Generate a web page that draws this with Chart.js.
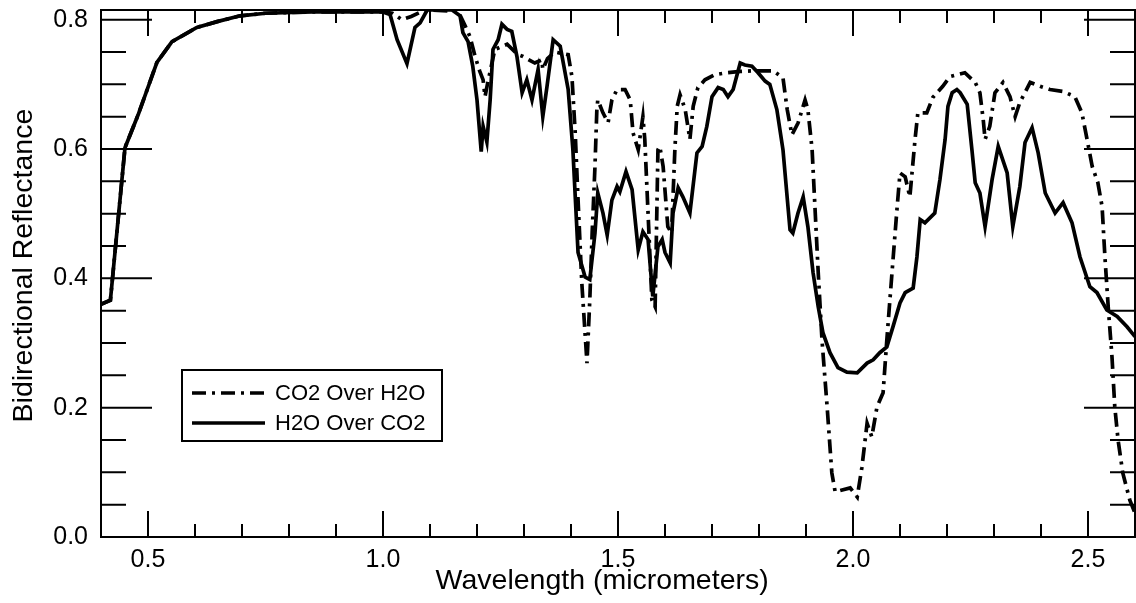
<!DOCTYPE html>
<html>
<head>
<meta charset="utf-8">
<script src="https://cdn.jsdelivr.net/npm/chart.js@4.4.0/dist/chart.umd.min.js"></script>
<style>
body { margin: 0; background: #fff; }
#wrap { width: 1136px; height: 603px; position: relative; }
</style>
</head>
<body>
<div id="wrap"><canvas id="myChart"></canvas></div>
<script>
// H2O Over CO2 (solid)
let h2oX = [0.40, 0.42, 0.451, 0.479, 0.519, 0.551, 0.604, 0.647, 0.696, 0.75, 0.85, 1.0,
  1.015, 1.03, 1.051, 1.068, 1.079, 1.094, 1.147, 1.164, 1.17, 1.181, 1.191, 1.2, 1.209, 1.213,
  1.221, 1.228, 1.234, 1.245, 1.253, 1.264, 1.274, 1.285, 1.296, 1.306, 1.317, 1.330, 1.340,
  1.349, 1.362, 1.377, 1.394, 1.404, 1.415, 1.430, 1.440, 1.451, 1.457, 1.468, 1.477, 1.487,
  1.498, 1.504, 1.517, 1.530, 1.543, 1.553, 1.564, 1.574, 1.585, 1.594, 1.600, 1.611, 1.617,
  1.628, 1.638, 1.653, 1.668, 1.679, 1.689, 1.700, 1.713, 1.724, 1.734, 1.745, 1.760, 1.770,
  1.785, 1.798, 1.813, 1.823, 1.838, 1.851, 1.866, 1.872, 1.883, 1.894, 1.904, 1.915, 1.926,
  1.936, 1.951, 1.968, 1.987, 2.009, 2.030, 2.043, 2.057, 2.072, 2.085, 2.100, 2.111, 2.128,
  2.136, 2.143, 2.153, 2.174, 2.185, 2.196, 2.202, 2.211, 2.221, 2.228, 2.243, 2.253, 2.260,
  2.270, 2.281, 2.296, 2.309, 2.328, 2.340, 2.355, 2.366, 2.381, 2.394, 2.409, 2.430, 2.447,
  2.466, 2.483, 2.504, 2.519, 2.540, 2.562, 2.583, 2.600]
let h2oY = [0.360, 0.366, 0.602, 0.653, 0.734, 0.766, 0.788, 0.797, 0.806, 0.810, 0.812, 0.812,
  0.808, 0.769, 0.732, 0.788, 0.795, 0.815, 0.815, 0.806, 0.780, 0.766, 0.728, 0.676, 0.596, 0.635,
  0.611, 0.676, 0.754, 0.769, 0.793, 0.785, 0.782, 0.743, 0.687, 0.707, 0.676, 0.723, 0.650,
  0.697, 0.769, 0.759, 0.692, 0.599, 0.440, 0.402, 0.398, 0.470, 0.532, 0.501, 0.467, 0.521,
  0.542, 0.534, 0.565, 0.537, 0.444, 0.472, 0.460, 0.372, 0.449, 0.460, 0.440, 0.424, 0.501,
  0.540, 0.526, 0.501, 0.594, 0.604, 0.635, 0.681, 0.695, 0.692, 0.681, 0.692, 0.733, 0.730,
  0.728, 0.718, 0.705, 0.700, 0.661, 0.599, 0.475, 0.470, 0.501, 0.526, 0.480, 0.409, 0.356,
  0.316, 0.285, 0.262, 0.255, 0.254, 0.269, 0.274, 0.285, 0.294, 0.325, 0.362, 0.378, 0.385,
  0.433, 0.491, 0.486, 0.501, 0.553, 0.615, 0.666, 0.687, 0.692, 0.687, 0.669, 0.599, 0.548,
  0.532, 0.480, 0.553, 0.604, 0.563, 0.480, 0.542, 0.610, 0.633, 0.594, 0.532, 0.501, 0.517,
  0.486, 0.433, 0.387, 0.378, 0.351, 0.341, 0.325, 0.310]

// CO2 Over H2O (dash-dot)
let co2X = [0.40, 0.42, 0.451, 0.479, 0.519, 0.551, 0.604, 0.647, 0.696, 0.75, 0.85, 1.0,
  1.02, 1.04, 1.06, 1.08, 1.10, 1.16, 1.175, 1.185, 1.196, 1.206, 1.213, 1.217, 1.223, 1.238,
  1.264, 1.287, 1.298, 1.323, 1.338, 1.340, 1.350, 1.365, 1.394, 1.402, 1.409, 1.415, 1.423,
  1.434, 1.440, 1.445, 1.451, 1.455, 1.457, 1.468, 1.479, 1.487, 1.498, 1.515, 1.526, 1.532,
  1.543, 1.553, 1.557, 1.564, 1.572, 1.579, 1.585, 1.589, 1.596, 1.606, 1.614, 1.621, 1.626,
  1.632, 1.643, 1.653, 1.660, 1.670, 1.685, 1.706, 1.732, 1.760, 1.787, 1.830, 1.851, 1.860,
  1.870, 1.883, 1.898, 1.904, 1.913, 1.919, 1.926, 1.934, 1.945, 1.955, 1.962, 1.994, 2.009,
  2.019, 2.030, 2.040, 2.051, 2.064, 2.072, 2.083, 2.094, 2.100, 2.111, 2.121, 2.132, 2.138,
  2.157, 2.170, 2.191, 2.206, 2.238, 2.260, 2.270, 2.277, 2.281, 2.291, 2.302, 2.319, 2.334,
  2.345, 2.355, 2.377, 2.398, 2.419, 2.447, 2.472, 2.487, 2.498, 2.509, 2.521, 2.530, 2.536,
  2.543, 2.551, 2.557, 2.564, 2.574, 2.589, 2.600]
let co2Y = [0.360, 0.366, 0.602, 0.653, 0.734, 0.766, 0.788, 0.797, 0.806, 0.810, 0.812, 0.812,
  0.810, 0.800, 0.805, 0.812, 0.815, 0.813, 0.790, 0.774, 0.743, 0.720, 0.707, 0.681, 0.703, 0.754,
  0.762, 0.746, 0.743, 0.733, 0.738, 0.723, 0.740, 0.750, 0.746, 0.712, 0.625, 0.522, 0.393,
  0.269, 0.367, 0.470, 0.573, 0.661, 0.676, 0.656, 0.641, 0.676, 0.692, 0.692, 0.676, 0.625,
  0.599, 0.650, 0.615, 0.500, 0.367, 0.356, 0.599, 0.604, 0.573, 0.480, 0.470, 0.599, 0.666,
  0.684, 0.661, 0.615, 0.666, 0.695, 0.707, 0.715, 0.718, 0.720, 0.721, 0.721, 0.710, 0.661,
  0.622, 0.640, 0.676, 0.661, 0.599, 0.511, 0.409, 0.305, 0.201, 0.099, 0.070, 0.076, 0.062,
  0.108, 0.176, 0.155, 0.201, 0.223, 0.305, 0.409, 0.511, 0.563, 0.557, 0.526, 0.615, 0.656,
  0.656, 0.680, 0.697, 0.712, 0.718, 0.703, 0.687, 0.646, 0.615, 0.635, 0.687, 0.703, 0.681,
  0.650, 0.672, 0.703, 0.697, 0.692, 0.689, 0.681, 0.656, 0.615, 0.573, 0.548, 0.511, 0.433,
  0.356, 0.279, 0.201, 0.150, 0.099, 0.057, 0.037]

let seriesNames = ["CO2 Over H2O", "H2O Over CO2"]

function pts(xs, ys) {
        return xs.map(function (x, i) { return { x: x, y: ys[i] } })
}

Chart.defaults.font.family = '"Liberation Sans", Helvetica, Arial, sans-serif'
Chart.defaults.color = "#000"

// box, inward ticks and legend, IDL style
const frame = {
        id: "frame",
        afterDatasetsDraw(chart) {
                const ctx = chart.ctx
                const a = chart.chartArea
                const sx = chart.scales.x
                const sy = chart.scales.y
                ctx.save()
                ctx.strokeStyle = "#000"
                ctx.lineWidth = 2
                ctx.strokeRect(a.left, a.top, a.right - a.left, a.bottom - a.top)
                ctx.beginPath()
                for (let i = 4; i <= 26; i++) {
                        let px = sx.getPixelForValue(i / 10)
                        let len = (i % 5 == 0) ? 26 : 13
                        ctx.moveTo(px, a.bottom); ctx.lineTo(px, a.bottom - len)
                        ctx.moveTo(px, a.top); ctx.lineTo(px, a.top + len)
                }
                for (let i = 0; i <= 16; i++) {
                        let py = sy.getPixelForValue(i * 0.05)
                        let len = (i % 4 == 0) ? 51 : 25
                        ctx.moveTo(a.left, py); ctx.lineTo(a.left + len, py)
                        ctx.moveTo(a.right, py); ctx.lineTo(a.right - len, py)
                }
                ctx.stroke()

                // legend
                ctx.fillStyle = "#fff"
                ctx.fillRect(182, 370, 260, 71)
                ctx.strokeRect(182, 370, 260, 71)
                ctx.font = '22px "Liberation Sans", Helvetica, Arial, sans-serif'
                ctx.textBaseline = "middle"
                chart.data.datasets.forEach(function (ds, i) {
                        let y = 393 + i * 30
                        ctx.setLineDash(ds.borderDash || [])
                        ctx.lineWidth = ds.borderWidth
                        ctx.beginPath()
                        ctx.moveTo(192, y)
                        ctx.lineTo(265, y)
                        ctx.stroke()
                        ctx.setLineDash([])
                        ctx.fillStyle = "#000"
                        ctx.fillText(ds.label, 275, y + 1)
                })
                ctx.restore()
        }
}

let myChart = new Chart(document.getElementById("myChart"), {
        type: "line",
        data: {
                datasets: [
                        {
                                label: seriesNames[0],
                                data: pts(co2X, co2Y),
                                borderColor: "#000",
                                borderWidth: 3.7,
                                borderDash: [14, 6, 3, 6],
                                pointRadius: 0,
                                tension: 0,
                                fill: false
                        },
                        {
                                label: seriesNames[1],
                                data: pts(h2oX, h2oY),
                                borderColor: "#000",
                                borderWidth: 3.7,
                                pointRadius: 0,
                                tension: 0,
                                fill: false
                        }
                ]
        },
        options: {
                responsive: true,
                maintainAspectRatio: false,
                animation: false,
                layout: { padding: { left: 0, right: 1, top: 10, bottom: 0 } },
                plugins: {
                        legend: { display: false },
                        tooltip: { enabled: false }
                },
                scales: {
                        x: {
                                type: "linear",
                                min: 0.4,
                                max: 2.6,
                                grid: { display: false, drawTicks: false },
                                border: { display: false },
                                ticks: {
                                        stepSize: 0.5,
                                        includeBounds: false,
                                        maxRotation: 0,
                                        padding: 8,
                                        font: { size: 25 },
                                        callback: function (v) { return v.toFixed(1) }
                                },
                                title: {
                                        display: true,
                                        // trailing spaces pull the centred title a bit left, like the original
                                        text: "Wavelength (micrometers)\u00a0\u00a0\u00a0\u00a0",
                                        font: { size: 28.5 },
                                        padding: { top: 0, bottom: 5 }
                                },
                                afterFit: function (s) {
                                        s.height = 66
                                        s.paddingLeft = 0
                                        s.paddingRight = 0
                                }
                        },
                        y: {
                                min: 0,
                                max: 0.815,
                                grid: { display: false, drawTicks: false },
                                border: { display: false },
                                ticks: {
                                        stepSize: 0.2,
                                        includeBounds: false,
                                        padding: 13,
                                        font: { size: 25 },
                                        callback: function (v) { return v.toFixed(1) }
                                },
                                title: {
                                        display: true,
                                        text: "\u00a0\u00a0Bidirectional Reflectance",
                                        font: { size: 28.5 },
                                        padding: { top: 7, bottom: 0 }
                                },
                                afterFit: function (s) {
                                        s.width = 101
                                        s.paddingTop = 0
                                        s.paddingBottom = 0
                                }
                        }
                }
        },
        plugins: [frame]
})
</script>
</body>
</html>
